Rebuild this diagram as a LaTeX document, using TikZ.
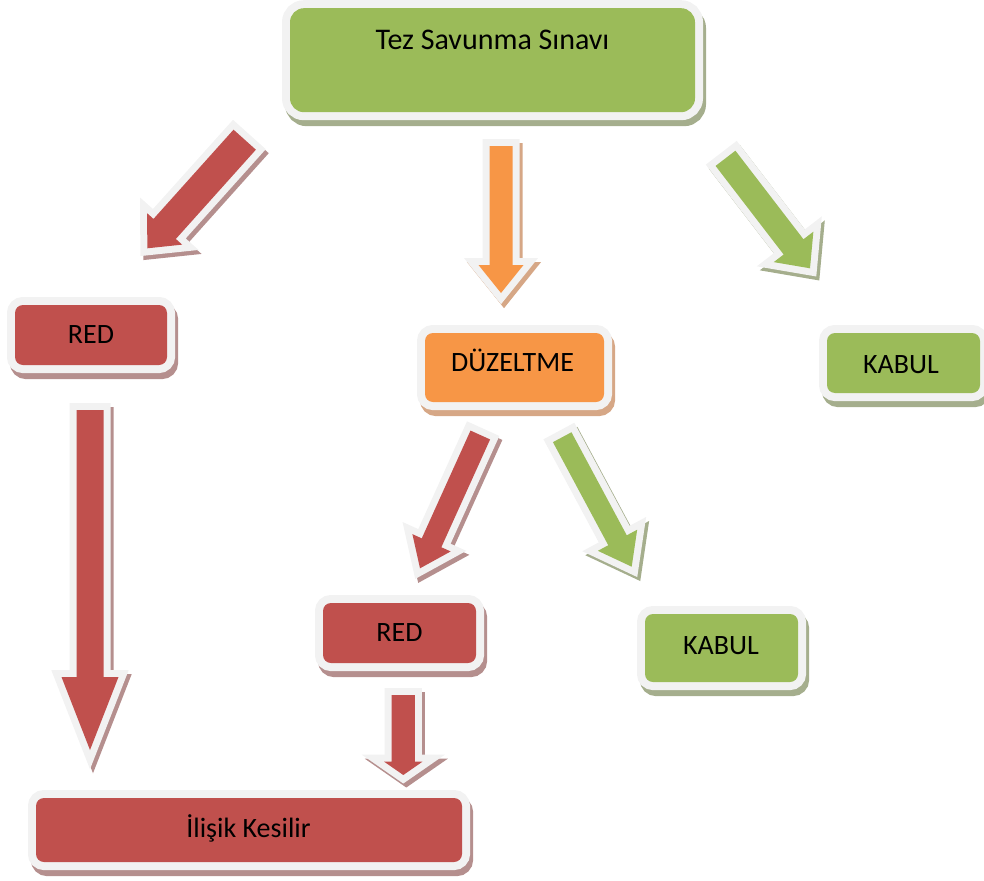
\documentclass[tikz,border=0pt]{standalone}
\usepackage{fontspec}
\setmainfont{Carlito}
\usetikzlibrary{calc}
\definecolor{cred}{HTML}{C0504D}
\definecolor{credsh}{HTML}{B58F8E}
\definecolor{cgreen}{HTML}{9BBB59}
\definecolor{cgreensh}{HTML}{A5AE8D}
\definecolor{corange}{HTML}{F79646}
\definecolor{corangesh}{HTML}{D6A786}
\definecolor{cborder}{HTML}{F2F2F2}
\tikzset{
  fbox/.style n args={2}{rectangle, inner sep=0pt, rounded corners=8pt, fill=#1,
    preaction={draw=#2, fill=#2, line width=16pt, transform canvas={shift={(3pt,-6pt)}}},
    preaction={draw=cborder, line width=16pt}},
  barr/.style n args={2}{fill=#1, line join=miter,
    preaction={draw=#2, fill=#2, line width=14pt, line join=miter, transform canvas={shift={(3pt,-4pt)}}},
    preaction={draw=cborder, line width=14pt, line join=miter}},
  txt/.style={inner sep=0pt, font=\fontsize{28}{34}\selectfont, text height=18pt, text depth=0pt}
}
% block arrow: #1 tail, #2 tip, #3 shaft width, #4 head width, #5 head length, #6 fill, #7 shadow
\newcommand\blockarrow[7]{%
  \pgfmathsetmacro\bw{#3/2}%
  \pgfmathsetmacro\bh{#4/2}%
  \coordinate (bH) at ($(#2)!#5pt!(#1)$);
  \path[barr={#6}{#7}] ($(#1)!\bw pt!90:(#2)$) -- ($(bH)!\bw pt!90:(#2)$) -- ($(bH)!\bh pt!90:(#2)$) -- (#2)
     -- ($(bH)!\bh pt!-90:(#2)$) -- ($(bH)!\bw pt!-90:(#2)$) -- ($(#1)!\bw pt!-90:(#2)$) -- cycle;
}
\begin{document}
\begin{tikzpicture}[x=1pt,y=-1pt]
\useasboundingbox (0,0) rectangle (984,880);
% boxes
\node[fbox={cgreen}{cgreensh}, rounded corners=14pt, minimum width=405pt, minimum height=104pt] (top) at (492.5,60.2) {};
\node[txt, font=\fontsize{30}{36}\selectfont, text height=19pt] (toptxt) at (492.5,40.5) {Tez Savunma Sınavı};
\node[fbox={cred}{credsh}, minimum width=152pt, minimum height=60pt] (red1) at (91,335) {};
\node[txt] (red1txt) at (91,334) {RED};
\node[fbox={corange}{corangesh}, minimum width=179pt, minimum height=69pt] (duz) at (514.5,367.5) {};
\node[txt] (duztxt) at (512.5,362.5) {DÜZELTME};
\node[fbox={cgreen}{cgreensh}, minimum width=153pt, minimum height=60pt] (kab1) at (903.5,363) {};
\node[txt] (kab1txt) at (901,364) {KABUL};
\node[fbox={cred}{credsh}, minimum width=153pt, minimum height=60pt] (red2) at (399.5,633) {};
\node[txt] (red2txt) at (399.5,632.5) {RED};
\node[fbox={cgreen}{cgreensh}, minimum width=153pt, minimum height=68pt] (kab2) at (721.5,648) {};
\node[txt] (kab2txt) at (721,645.8) {KABUL};
\node[fbox={cred}{credsh}, minimum width=426pt, minimum height=64pt] (ilisik) at (249,830) {};
\node[txt] (ilisiktxt) at (248.5,828) {İlişik Kesilir};
% arrow end points
\coordinate (a1s) at (244.7,139.7); \coordinate (a1t) at (147.3,248.3);
\coordinate (a2s) at (501,146);     \coordinate (a2t) at (501,293);
\coordinate (a3s) at (725.5,158.3); \coordinate (a3t) at (810,268.3);
\coordinate (a4s) at (90,410);      \coordinate (a4t) at (90,750);
\coordinate (a5s) at (480.3,435);   \coordinate (a5t) at (420,568.3);
\coordinate (a6s) at (562.2,437.2); \coordinate (a6t) at (631.7,566.7);
\coordinate (a7s) at (403.3,695);   \coordinate (a7t) at (403.3,775);
% arrows
\blockarrow{a1s}{a1t}{30}{47}{26}{cred}{credsh}
\blockarrow{a2s}{a2t}{23}{45}{28}{corange}{corangesh}
\blockarrow{a3s}{a3t}{25}{50}{27}{cgreen}{cgreensh}
\blockarrow{a4s}{a4t}{27}{57}{73}{cred}{credsh}
\blockarrow{a5s}{a5t}{21.5}{42}{28}{cred}{credsh}
\blockarrow{a6s}{a6t}{21}{44.6}{30}{cgreen}{cgreensh}
\blockarrow{a7s}{a7t}{23.3}{38.3}{13.3}{cred}{credsh}
\end{tikzpicture}
\end{document}
